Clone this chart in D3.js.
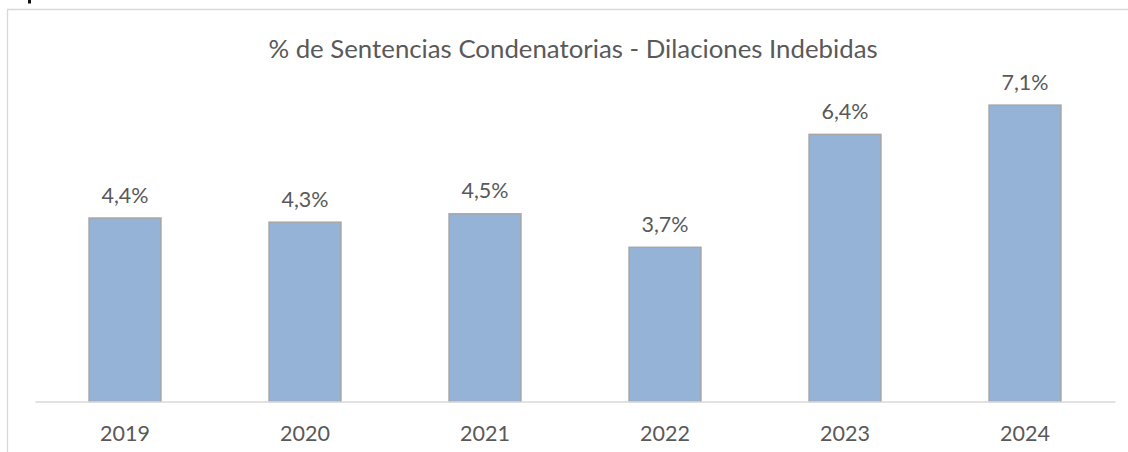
<!DOCTYPE html>
<html>
<head>
<meta charset="utf-8">
<script src="https://cdn.jsdelivr.net/npm/d3@7"></script>
<style>
  body { margin: 0; background: #fff; }
  text { font-family: Lato, "Open Sans", sans-serif; fill: #595959; }
</style>
</head>
<body>
<div id="chart-area"></div>
<script>
const years = ["2019", "2020", "2021", "2022", "2023", "2024"]
const values = [4.4, 4.3, 4.5, 3.7, 6.4, 7.1]
const title = "% de Sentencias Condenatorias - Dilaciones Indebidas"

const W = 1128, H = 452
const PLOT = { LEFT: 35, RIGHT: 1115, TOP: 67, BOTTOM: 401.5 }

const svg = d3.select("#chart-area").append("svg")
  .attr("width", W)
  .attr("height", H)

// chart frame (only top and left edges are visible in the picture)
svg.append("path")
  .attr("d", `M7.5,${H} V9.5 H${W}`)
  .attr("fill", "none")
  .attr("stroke", "#d9d9d9")
  .attr("stroke-width", 1.3)

// little dark mark above the frame
svg.append("rect")
  .attr("x", 28).attr("y", 0)
  .attr("width", 3).attr("height", 3.5)
  .attr("fill", "#111")

const x = d3.scaleBand()
  .domain(years)
  .range([PLOT.LEFT, PLOT.RIGHT])
  .paddingInner(0.595)
  .paddingOuter(0.2975)

const y = d3.scaleLinear()
  .domain([0, 8])
  .range([PLOT.BOTTOM, PLOT.TOP])

svg.append("text")
  .attr("x", 573)
  .attr("y", 48)
  .attr("text-anchor", "middle")
  .attr("dominant-baseline", "central")
  .attr("font-size", 25.8)
  .text(title)

svg.selectAll(".bar")
  .data(values)
  .enter().append("rect")
  .attr("class", "bar")
  .attr("x", (d, i) => x(years[i]) + 0.5)
  .attr("y", d => y(d) + 0.5)
  .attr("width", x.bandwidth() - 1)
  .attr("height", d => PLOT.BOTTOM - y(d) - 0.5)
  .attr("fill", "#95b3d7")
  .attr("stroke", "#a6a6a6")
  .attr("stroke-width", 1.5)

// category axis
const xAxis = svg.append("g")
  .attr("transform", `translate(0,${PLOT.BOTTOM})`)
  .call(d3.axisBottom(x).tickSize(0).tickPadding(0))
xAxis.select(".domain").attr("stroke", "#d9d9d9").attr("stroke-width", 1.5)
xAxis.selectAll("text")
  .attr("y", 31)
  .attr("dy", null)
  .attr("dominant-baseline", "central")
  .attr("font-size", 21.5)
  .attr("fill", "#595959")
  .attr("font-family", "Lato, 'Open Sans', sans-serif")

svg.selectAll(".label")
  .data(values)
  .enter().append("text")
  .attr("class", "label")
  .attr("x", (d, i) => x(years[i]) + x.bandwidth() / 2)
  .attr("y", d => y(d) - 23)
  .attr("text-anchor", "middle")
  .attr("dominant-baseline", "central")
  .attr("font-size", 21.5)
  .text(d => d3.format(".1f")(d).replace(".", ",") + "%")
</script>
</body>
</html>
